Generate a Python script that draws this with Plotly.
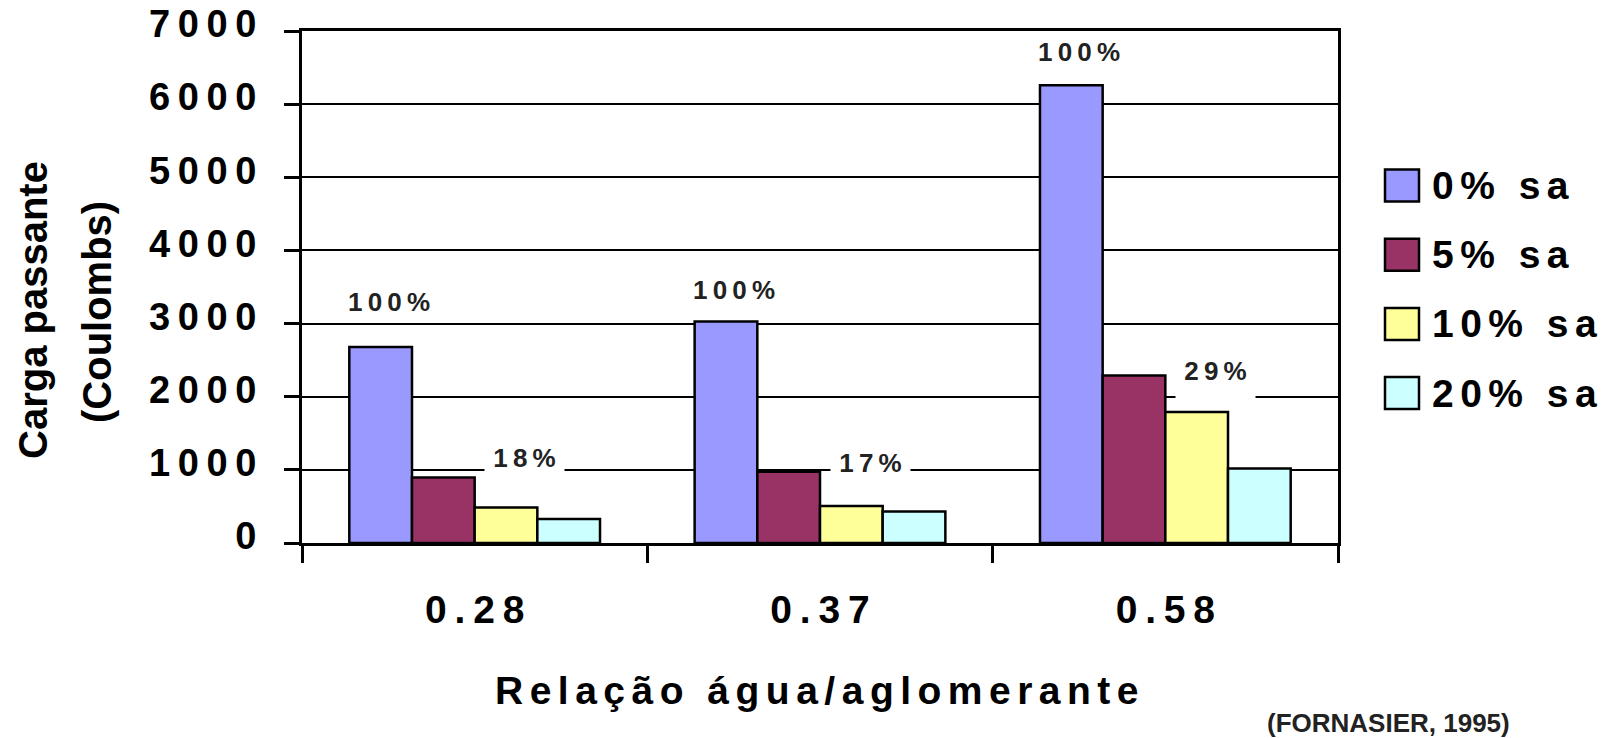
import plotly.graph_objects as go

# --- data -----------------------------------------------------------------
ratios = ["0.28", "0.37", "0.58"]                 # relação água/aglomerante
series_names = ["0% sa", "5% sa", "10% sa", "20% sa"]
charge_0 = [2680, 3030, 6260]                     # Coulombs, 0% sílica ativa
charge_5 = [895, 975, 2290]
charge_10 = [486, 505, 1790]
charge_20 = [327, 430, 1020]
y_ticks = [0, 1000, 2000, 3000, 4000, 5000, 6000, 7000]

x_title = "Relação água/aglomerante"
y_title_lines = ["Carga passante", "(Coulombs)"]
source_note = "(FORNASIER, 1995)"

# --- style ----------------------------------------------------------------
colors = ["#9999FF", "#993366", "#FFFF99", "#CCFFFF"]
FONT = "Liberation Sans, Arial, sans-serif"
THIN = "\u2009"      # thin space, used as letter spacing
SIXTH = "\u2006"     # six-per-em space


def spaced(text, gap=THIN):
    return gap.join(text)


W, H = 1602, 738
ML, MR, MT, MB = 302, 264, 31, 195
PW, PH = W - ML - MR, H - MT - MB


def px_x(px):
    return (px - ML) / PW


def px_y(py):
    return (H - MB - py) / PH


cats = [spaced(r) for r in ratios]
series_values = [charge_0, charge_5, charge_10, charge_20]

fig = go.Figure()
for name, vals, col in zip(series_names, series_values, colors):
    fig.add_trace(go.Bar(
        x=cats, y=vals, name=name, showlegend=False,
        marker=dict(color=col, line=dict(color="black", width=2.5)),
    ))

annotations = []

# 100% over the reference (0% sa) bar of each group
top_lift = [45, 31, 33]
for i, c in enumerate(cats):
    pct = round(100 * charge_0[i] / charge_0[i])
    annotations.append(dict(
        x=c, y=charge_0[i], xref="x", yref="y", xshift=-86, yshift=top_lift[i],
        text=spaced(f"{pct}%"), showarrow=False, xanchor="center", yanchor="middle",
        font=dict(family=FONT, size=26, color="#222222", weight="bold"),
    ))

# 10% sa charge relative to the reference
pct_lift = [42, 36, 34]
for i, c in enumerate(cats):
    pct = round(100 * charge_10[i] / charge_0[i])
    annotations.append(dict(
        x=c, y=charge_10[i], xref="x", yref="y", xshift=50, yshift=pct_lift[i],
        text=spaced(f"{pct}%"), showarrow=False, xanchor="center", yanchor="middle",
        bgcolor="white", width=77, height=44, valign="top", borderpad=1,
        font=dict(family=FONT, size=26, color="#222222", weight="bold"),
    ))

# axis titles
annotations.append(dict(
    x=px_x(817), y=px_y(690), xref="paper", yref="paper",
    xanchor="center", yanchor="middle",
    text=spaced(x_title, SIXTH), showarrow=False,
    font=dict(family=FONT, size=39, color="black", weight="bold"),
))
for line, cx, cy in zip(y_title_lines, [33, 97], [310, 312]):
    annotations.append(dict(
        x=px_x(cx), y=px_y(cy), xref="paper", yref="paper", textangle=-90,
        xanchor="center", yanchor="middle",
        text=line, showarrow=False,
        font=dict(family=FONT, size=40, color="black", weight="bold"),
    ))

annotations.append(dict(
    x=px_x(1388), y=px_y(723), xref="paper", yref="paper",
    xanchor="center", yanchor="middle",
    text=source_note, showarrow=False,
    font=dict(family=FONT, size=26, color="#222222", weight="bold"),
))

# legend: swatches and labels
shapes = []
leg_top, leg_step, sw_half = 185.5, 69.2, 16
for k, (name, col) in enumerate(zip(series_names, colors)):
    cy = leg_top + k * leg_step
    shapes.append(dict(
        type="rect", xref="paper", yref="paper",
        x0=px_x(1385), x1=px_x(1419), y0=px_y(cy + sw_half), y1=px_y(cy - sw_half),
        fillcolor=col, line=dict(color="black", width=2.5),
    ))
    annotations.append(dict(
        x=px_x(1430), y=px_y(cy), xref="paper", yref="paper",
        xanchor="left", yanchor="middle", text=spaced(name, SIXTH), showarrow=False,
        font=dict(family=FONT, size=39, color="black", weight="bold"),
    ))

fig.update_layout(
    template="none",
    width=W, height=H,
    margin=dict(l=ML, r=MR, t=MT, b=MB, pad=0, autoexpand=False),
    paper_bgcolor="white", plot_bgcolor="white",
    barmode="group", bargap=0.274, bargroupgap=0,
    showlegend=False,
    annotations=annotations, shapes=shapes,
    xaxis=dict(
        type="category", categoryorder="array", categoryarray=cats,
        automargin=False,
        showline=True, linecolor="black", linewidth=3, mirror=True,
        showgrid=False, zeroline=False,
        ticks="outside", tickson="boundaries", ticklen=17, tickwidth=3, tickcolor="black",
        ticklabelstandoff=30,
        tickfont=dict(family=FONT, size=39, color="black", weight="bold"),
    ),
    yaxis=dict(
        range=[0, 7000], tickmode="array", tickvals=y_ticks,
        ticktext=[spaced(str(v)) for v in y_ticks],
        automargin=False,
        showline=True, linecolor="black", linewidth=3, mirror=True,
        showgrid=True, gridcolor="black", gridwidth=2, zeroline=False,
        ticks="outside", ticklen=15, tickwidth=3, tickcolor="black",
        ticklabelstandoff=20, ticklabelshift=-7,
        tickfont=dict(family=FONT, size=38, color="black", weight="bold"),
    ),
)

fig.write_html("out.html")
